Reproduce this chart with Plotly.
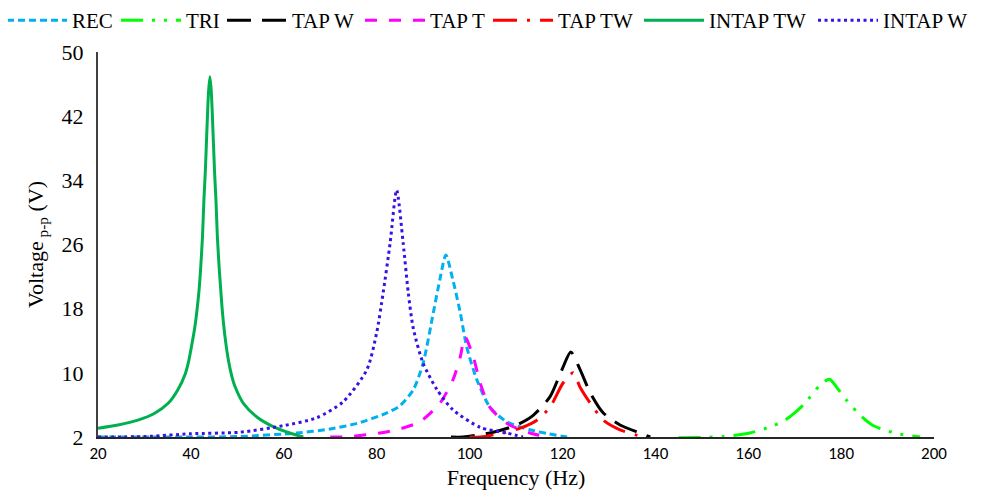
import plotly.graph_objects as go

# ---- data ----
rec_f = [20, 40, 50, 62.8, 70, 75.8, 82.2, 85, 87.9, 90, 92.2, 93.6, 94.9, 96.4, 98, 99.4, 101.6, 104.4, 108, 113, 117, 121]
rec_v = [2, 2, 2.05, 2.5, 3.0, 3.7, 5.0, 5.9, 7.9, 11.2, 17.5, 21.6, 24.7, 21.6, 17.5, 13.2, 9.1, 5.7, 3.9, 2.9, 2.4, 2.0]

tri_f = [145, 150, 154.6, 157.6, 160.4, 165.4, 167.7, 170, 172.2, 175.5, 177.5, 179.3, 181.3, 184.5, 186.7, 189.2, 192.3, 197]
tri_v = [1.9, 1.95, 2.05, 2.25, 2.5, 3.4, 4.0, 5.0, 6.2, 8.5, 9.2, 8.0, 6.5, 4.5, 3.5, 2.9, 2.4, 2.0]

tapw_f = [96, 98.6, 105.1, 110.2, 113.7, 117.3, 119.9, 121.8, 123.8, 126, 128.8, 132.4, 136.7, 138.9]
tapw_v = [2, 2, 2.6, 3.5, 4.7, 7.0, 10.4, 12.6, 10.4, 7.5, 5.0, 3.5, 2.5, 2.0]

tapt_f = [70, 74.3, 80.7, 84.3, 89.3, 93.6, 96.4, 98, 99, 100.8, 102.3, 104.4, 108, 113, 116.7]
tapt_v = [2, 2.05, 2.5, 2.9, 3.9, 6.2, 9.1, 12, 14.5, 12, 8.7, 5.7, 3.7, 2.5, 2.0]

taptw_f = [100, 102.3, 107.2, 110.9, 114.5, 117.3, 120.1, 122.3, 123.8, 126, 128.8, 132.4, 137.4]
taptw_v = [2, 2, 2.5, 3.1, 4.1, 5.7, 8.7, 10.0, 8.2, 6.2, 4.1, 2.9, 2.0]

intaptw_f = [20, 24.3, 28.6, 32.2, 35.1, 37.2, 38.8, 39.5, 40.1, 40.6, 41.0, 41.5, 41.8, 42.1, 42.5, 42.8,
             43.1, 43.4, 43.8, 44.1, 44.4, 44.8, 45.1, 45.4, 45.7, 46.1, 46.4, 46.7, 47.0, 47.5, 48.1,
             48.8, 49.5, 51.3, 54.2, 57.7, 61.3, 64.2]
intaptw_v = [3.1, 3.5, 4.1, 4.96, 6.2, 7.9, 9.9, 11.4, 13.2, 14.8, 16.3, 18.8, 20.6, 23.0, 27.0, 31.5,
             35.0, 39.5, 45.0, 46.9, 45.0, 39.5, 35.0, 31.5, 27.0, 23.0, 20.6, 18.2, 16.3, 13.8, 11.5,
             9.6, 8.3, 6.2, 4.5, 3.3, 2.5, 2.0]

intapw_f = [20, 30, 39.8, 50.6, 59.8, 67.1, 72.8, 77.9, 80, 81.4, 82.9, 84.3, 85.7, 86.8, 87.9, 90, 93, 96.4, 102.3, 108, 111.5]
intapw_v = [2, 2.05, 2.4, 2.6, 3.4, 4.4, 6.4, 10.4, 15, 20, 26.2, 32.8, 26.2, 20, 15.5, 11.2, 7.9, 5.4, 3.2, 2.5, 2.0]

x_ticks = [20, 40, 60, 80, 100, 120, 140, 160, 180, 200]
y_ticks = [2, 10, 18, 26, 34, 42, 50]

series = [
    ("REC", rec_f, rec_v, "#00B0F0", "7px,4px"),
    ("TRI", tri_f, tri_v, "#00FF00", "22px,9px,3px,9px,3px,9px"),
    ("TAP W", tapw_f, tapw_v, "#000000", "24px,11px"),
    ("TAP T", tapt_f, tapt_v, "#FF00FF", "12px,12px"),
    ("TAP TW", taptw_f, taptw_v, "#FF0000", "24px,10px,3px,10px"),
    ("INTAP TW", intaptw_f, intaptw_v, "#00B050", "solid"),
    ("INTAP W", intapw_f, intapw_v, "#3A10E5", "3px,3.5px"),
]
# left edge of each legend entry (fraction of plot-area width)
legend_x = [-0.1148, 0.0215, 0.1483, 0.3134, 0.4665, 0.6471, 0.8553]

serif = "Liberation Serif, Times New Roman, serif"

fig = go.Figure()
layout_legends = {}
for i, (name, f, v, col, dash) in enumerate(series):
    lg = "legend" if i == 0 else f"legend{i+1}"
    fig.add_trace(go.Scatter(
        x=f, y=v, name=name, mode="lines", legend=lg,
        line=dict(color=col, dash=dash, width=3, shape="spline", smoothing=0.7),
    ))
    layout_legends[lg] = dict(
        orientation="h", x=legend_x[i], xanchor="left", xref="paper",
        y=1.1351, yanchor="top", yref="paper",
        font=dict(family=serif, size=21, color="#000"),
        itemwidth=60, bgcolor="rgba(0,0,0,0)", borderwidth=0,
    )

fig.update_layout(
    width=978, height=490,
    margin=dict(l=90, r=52, t=44, b=61, autoexpand=False),
    plot_bgcolor="white", paper_bgcolor="white",
    showlegend=True,
    xaxis=dict(range=[20, 200], tickvals=x_ticks, showgrid=False, zeroline=False,
               showline=True, linecolor="#262626", linewidth=2, ticks="",
               tickfont=dict(family="Carlito, Open Sans, Liberation Sans, sans-serif", size=17, color="#000"),
               title=dict(text="Frequency (Hz)", font=dict(family=serif, size=22, color="#000"), standoff=6)),
    yaxis=dict(range=[2, 50], tickvals=y_ticks, showgrid=False, zeroline=False,
               showline=True, linecolor="#404040", linewidth=2, ticks="",
               ticklabelstandoff=8,
               tickfont=dict(family=serif, size=22, color="#000"),
               title=dict(text="Voltage<sub> p-p</sub> (V)", font=dict(family=serif, size=22, color="#000"), standoff=12)),
    **layout_legends,
)

fig.write_html("out.html")
